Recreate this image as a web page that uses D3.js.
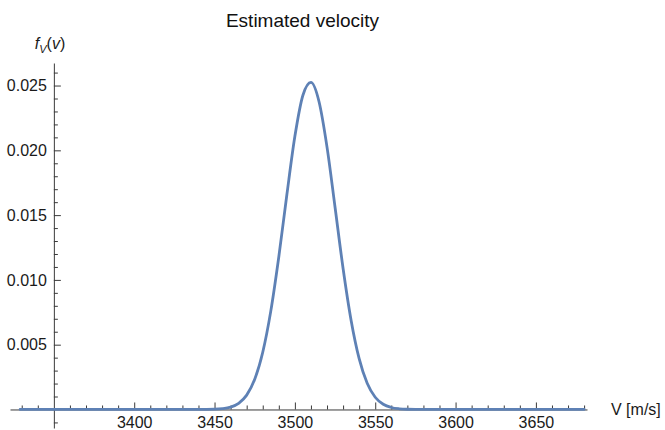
<!DOCTYPE html>
<html>
<head>
<meta charset="utf-8">
<script src="https://cdn.jsdelivr.net/npm/d3@7"></script>
<style>
  html, body { margin: 0; padding: 0; background: #fff; }
  svg { display: block; font-family: "Liberation Sans", Arial, Helvetica, sans-serif; }
</style>
</head>
<body>
<svg id="chart" width="665" height="430"></svg>
<script>
// ---- data ----
const velocity = [3329, 3400, 3440, 3450, 3455, 3460, 3465, 3470, 3475, 3480, 3485, 3490, 3495, 3500,
                  3505, 3510, 3515, 3520, 3525, 3530, 3535, 3540, 3545, 3550, 3555, 3560, 3565, 3570,
                  3580, 3620, 3680];
const density  = [0, 0, 0.000001, 0.000021, 0.000066, 0.000187, 0.000479, 0.001109, 0.002328, 0.004419,
                  0.00759, 0.01179, 0.01657, 0.02108, 0.02425, 0.02524, 0.02377, 0.02025, 0.01561,
                  0.01088, 0.00687, 0.00392, 0.00202, 0.000945, 0.000399, 0.000153, 0.000053, 0.0000165,
                  0, 0, 0];
const xMajorTicks = [3400, 3450, 3500, 3550, 3600, 3650];
const xMinorTicks = [3330, 3340, 3360, 3370, 3380, 3390, 3410, 3420, 3430, 3440, 3460, 3470, 3480, 3490,
                     3510, 3520, 3530, 3540, 3560, 3570, 3580, 3590, 3610, 3620, 3630, 3640, 3660, 3670, 3680];
const yMajorTicks = [0.005, 0.010, 0.015, 0.020, 0.025];
const yMinorTicks = [-0.001, 0.001, 0.002, 0.003, 0.004, 0.006, 0.007, 0.008, 0.009, 0.011, 0.012, 0.013,
                     0.014, 0.016, 0.017, 0.018, 0.019, 0.021, 0.022, 0.023, 0.024, 0.026];
const xDomain = [3322.7, 3681.8];
const yDomain = [-0.00143, 0.02674];
const titleText = "Estimated velocity";
const xLabel = "V [m/s]";

// ---- drawing ----
const svg = d3.select("#chart");
const axisColor = "#3a3a3a";
const textColor = "#1a1a1a";

const x = d3.scaleLinear().domain(xDomain).range([10, 587]);
const y = d3.scaleLinear().domain(yDomain).range([428, 63]);

const x0 = y(0);      // x-axis position
const y0 = x(3350);   // y-axis position

// x axis: major
const gxMaj = svg.append("g").attr("transform", `translate(0,${x0})`)
  .call(d3.axisBottom(x).tickValues(xMajorTicks).tickFormat(d3.format("d"))
        .tickSizeInner(-7).tickSizeOuter(0).tickPadding(7));
// x axis: minor
const gxMin = svg.append("g").attr("transform", `translate(0,${x0})`)
  .call(d3.axisBottom(x).tickValues(xMinorTicks).tickFormat("")
        .tickSizeInner(-4).tickSizeOuter(0));
gxMin.select(".domain").remove();

// y axis: major
const gyMaj = svg.append("g").attr("transform", `translate(${y0},0)`)
  .call(d3.axisLeft(y).tickValues(yMajorTicks).tickFormat(d3.format(".3f"))
        .tickSizeInner(-7).tickSizeOuter(0).tickPadding(7));
const gyMin = svg.append("g").attr("transform", `translate(${y0},0)`)
  .call(d3.axisLeft(y).tickValues(yMinorTicks).tickFormat("")
        .tickSizeInner(-4).tickSizeOuter(0));
gyMin.select(".domain").remove();

[gxMaj, gxMin, gyMaj, gyMin].forEach(g => {
  g.selectAll(".domain").attr("stroke", axisColor).attr("stroke-width", 1);
  g.selectAll(".tick line").attr("stroke", axisColor).attr("stroke-width", 1);
  g.selectAll(".tick text").attr("fill", textColor).attr("font-size", 16)
    .attr("font-family", "'Liberation Sans', Arial, Helvetica, sans-serif");
});

// curve
const line = d3.line()
  .x((d, i) => x(velocity[i]))
  .y(d => y(d))
  .curve(d3.curveMonotoneX);

svg.append("path")
  .datum(density)
  .attr("d", line)
  .attr("fill", "none")
  .attr("stroke", "#5E81B5")
  .attr("stroke-width", 2.8)
  .attr("stroke-linejoin", "round")
  .attr("stroke-linecap", "round");

// title
svg.append("text")
  .attr("x", 302.5).attr("y", 27)
  .attr("text-anchor", "middle")
  .attr("font-size", 19)
  .attr("fill", "#111")
  .text(titleText);

// x-axis label
svg.append("text")
  .attr("x", 611).attr("y", x0 + 6)
  .attr("font-size", 16)
  .attr("fill", textColor)
  .text(xLabel);

// y-axis label  f_V(v)
const yl = svg.append("text")
  .attr("x", 50).attr("y", 49)
  .attr("text-anchor", "middle")
  .attr("font-size", 16)
  .attr("fill", textColor);
yl.append("tspan").attr("font-style", "italic").text("f");
yl.append("tspan").attr("font-style", "italic").attr("font-size", 11).attr("dy", 4).text("V");
yl.append("tspan").attr("dy", -4).text("(");
yl.append("tspan").attr("font-style", "italic").text("v");
yl.append("tspan").text(")");
</script>
</body>
</html>
